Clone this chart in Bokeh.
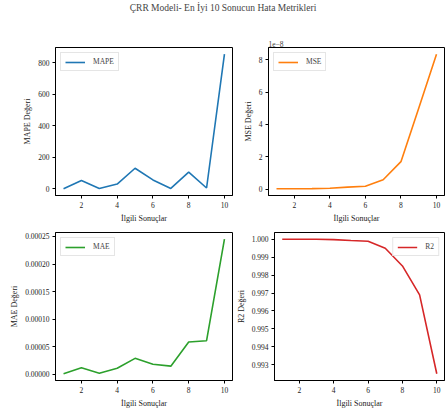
from bokeh.plotting import figure
from bokeh.layouts import column, row
from bokeh.models import Range1d, FixedTicker, PrintfTickFormatter, Legend, LegendItem
from bokeh.embed import file_html
from bokeh.resources import INLINE

# ---- data ----
results = [1, 2, 3, 4, 5, 6, 7, 8, 9, 10]
mape = [0, 52, 2, 30, 130, 56, 2, 106, 5, 853]
mse = [0.02e-8, 0.02e-8, 0.03e-8, 0.05e-8, 0.12e-8, 0.18e-8, 0.58e-8, 1.70e-8, 5.0e-8, 8.35e-8]
mae = [0.000001, 0.0000118, 0.000002, 0.000011, 0.000029, 0.0000184, 0.0000148, 0.0000586, 0.000061, 0.000245]
r2 = [1.0, 1.0, 1.0, 0.99998, 0.99993, 0.99989, 0.9995, 0.99851, 0.9969, 0.9925]

x_ticks = [2, 4, 6, 8, 10]
mape_ticks = [0, 200, 400, 600, 800]
mse_ticks = [0, 2, 4, 6, 8]          # in units of 1e-8
mae_ticks = [0.0, 0.00005, 0.0001, 0.00015, 0.0002, 0.00025]
r2_ticks = [0.993, 0.994, 0.995, 0.996, 0.997, 0.998, 0.999, 1.000]

title_text = "ÇRR Modeli- En İyi 10 Sonucun Hata Metrikleri"
xlabel = "İlgili Sonuçlar"

FONT = "Liberation Serif"
COLORS = ["#1f77b4", "#ff7f0e", "#2ca02c", "#d62728"]


def pad(vals, frac=0.05):
    lo, hi = min(vals), max(vals)
    d = hi - lo
    return lo - frac * d, hi + frac * d


def make_fig(xs, ys, color, label, ylabel, yticks, fmt, width, height,
             bl, br, bt, bb, legend_loc, title=None):
    p = figure(width=width, height=height, toolbar_location=None,
               output_backend="svg",
               x_range=Range1d(*pad(xs)), y_range=Range1d(*pad(ys)),
               min_border_left=bl, min_border_right=br,
               min_border_top=bt, min_border_bottom=bb)
    r = p.line(xs, ys, line_color=color, line_width=1.6)
    p.xgrid.visible = False
    p.ygrid.visible = False
    p.outline_line_color = "black"
    p.outline_line_width = 1
    p.background_fill_color = "white"
    p.border_fill_color = "white"
    p.xaxis.ticker = FixedTicker(ticks=x_ticks)
    p.yaxis.ticker = FixedTicker(ticks=yticks)
    if fmt:
        p.yaxis.formatter = PrintfTickFormatter(format=fmt)
    p.xaxis.axis_label = xlabel
    p.yaxis.axis_label = ylabel
    for ax in (p.xaxis, p.yaxis):
        ax.major_tick_out = 3
        ax.major_tick_in = 0
        ax.minor_tick_out = 0
        ax.minor_tick_in = 0
        ax.axis_line_color = "black"
        ax.major_tick_line_color = "black"
        ax.major_label_text_font = FONT
        ax.major_label_text_font_size = "7.5px"
        ax.major_label_text_color = "#222222"
        ax.axis_label_text_font = FONT
        ax.axis_label_text_font_size = "8px"
        ax.axis_label_text_font_style = "normal"
        ax.axis_label_text_color = "#222222"
        ax.major_label_standoff = 3
        ax.axis_label_standoff = 3
    if title:
        p.title.text = title
        p.title.align = "left"
        p.title.text_font = FONT
        p.title.text_font_size = "7.5px"
        p.title.text_font_style = "normal"
        p.title.standoff = 1
    leg = Legend(items=[LegendItem(label=label, renderers=[r])], location=legend_loc)
    leg.label_text_font = FONT
    leg.label_text_font_size = "7.5px"
    leg.label_standoff = 8
    leg.label_width = 8
    leg.glyph_width = 20
    leg.glyph_height = 8
    leg.label_height = 8
    leg.padding = 4
    leg.spacing = 0
    leg.margin = 5
    leg.border_line_color = "#cccccc"
    leg.border_line_width = 1
    leg.background_fill_alpha = 0.85
    p.add_layout(leg)
    return p


mse_scaled = [v / 1e-8 for v in mse]

p1 = make_fig(results, mape, COLORS[0], "MAPE", "MAPE Değeri", mape_ticks, None,
              233, 194, 55, 1, 11, 32, "top_left")
p2 = make_fig(results, mse_scaled, COLORS[1], "MSE", "MSE Değeri", mse_ticks, None,
              212, 194, 35, 1, 13, 33, "top_left", title="1e−8")
p3 = make_fig(results, mae, COLORS[2], "MAE", "MAE Değeri", mae_ticks, "%.5f",
              233, 182, 55, 1, 4, 28, "top_left")
p4 = make_fig(results, r2, COLORS[3], "R2", "R2 Değeri", r2_ticks, "%.3f",
              212, 182, 35, 1, 1, 28, "top_right")

tf = figure(width=445, height=34, toolbar_location=None, output_backend="svg",
            min_border=0, min_border_top=8, x_range=Range1d(0, 1), y_range=Range1d(0, 1))
tf.title.text = title_text
tf.title.align = "center"
tf.title.text_font = FONT
tf.title.text_font_size = "9.5px"
tf.title.text_font_style = "normal"
tf.title.standoff = 0
tf.axis.visible = False
tf.xgrid.visible = False
tf.ygrid.visible = False
tf.outline_line_color = None

layout = column(tf, row(p1, p2), row(p3, p4), spacing=0)

open("out.html", "w").write(file_html(layout, INLINE))
